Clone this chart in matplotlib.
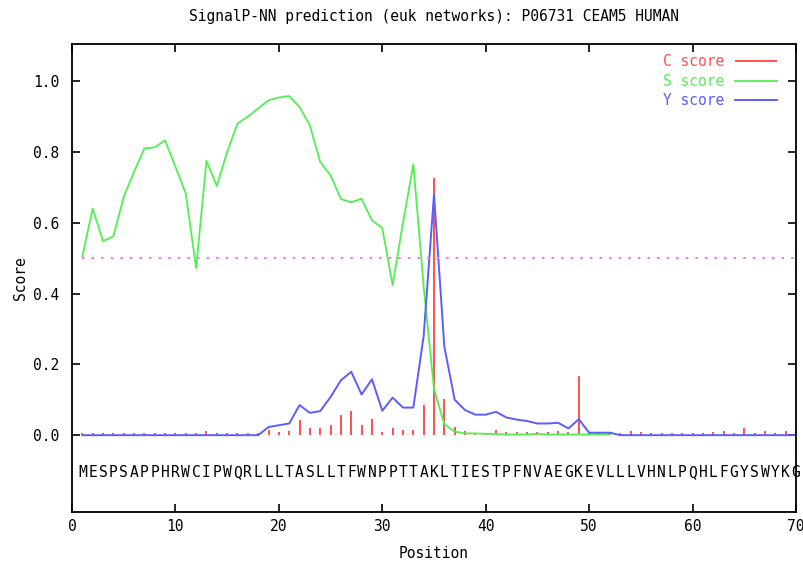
import matplotlib
matplotlib.use("Agg")
import matplotlib.pyplot as plt

# SignalP-NN scores for the first 70 residues of P06731 (CEAM5_HUMAN)
sequence = "MESPSAPPHRWCIPWQRLLLTASLLTFWNPPTTAKLTIESTPFNVAEGKEVLLLVHNLPQHLFGYSWYKG"
positions = list(range(1, 71))

c_score = [0.005, 0.006, 0.005, 0.006, 0.005, 0.005, 0.005, 0.005, 0.005, 0.005,
           0.006, 0.005, 0.012, 0.006, 0.005, 0.005, 0.005, 0.006, 0.014, 0.010,
           0.011, 0.044, 0.019, 0.019, 0.028, 0.057, 0.067, 0.028, 0.047, 0.009,
           0.019, 0.014, 0.014, 0.086, 0.726, 0.102, 0.024, 0.012, 0.006, 0.006,
           0.014, 0.008, 0.008, 0.008, 0.009, 0.008, 0.011, 0.008, 0.167, 0.006,
           0.006, 0.006, 0.007, 0.012, 0.008, 0.007, 0.007, 0.007, 0.007, 0.007,
           0.007, 0.008, 0.011, 0.007, 0.021, 0.007, 0.011, 0.007, 0.011, 0.007]

s_positions = list(range(1, 53))
s_score = [0.505, 0.640, 0.548, 0.562, 0.673, 0.744, 0.810, 0.813, 0.833, 0.758,
           0.683, 0.472, 0.775, 0.704, 0.800, 0.880, 0.900, 0.923, 0.946, 0.954,
           0.958, 0.927, 0.875, 0.772, 0.734, 0.667, 0.658, 0.668, 0.607, 0.585,
           0.424, 0.600, 0.765, 0.420, 0.130, 0.031, 0.010, 0.005, 0.005, 0.004,
           0.003, 0.002, 0.002, 0.002, 0.004, 0.002, 0.002, 0.002, 0.002, 0.002,
           0.002, 0.002]

y_score = [0.0, 0.0, 0.0, 0.0, 0.0, 0.0, 0.0, 0.0, 0.0, 0.0,
           0.0, 0.0, 0.0, 0.0, 0.0, 0.0, 0.0, 0.0, 0.023, 0.028,
           0.033, 0.085, 0.063, 0.068, 0.108, 0.155, 0.179, 0.115, 0.158, 0.069,
           0.106, 0.078, 0.078, 0.280, 0.680, 0.250, 0.100, 0.071, 0.058, 0.058,
           0.066, 0.050, 0.044, 0.040, 0.033, 0.033, 0.035, 0.019, 0.045, 0.007,
           0.007, 0.007, 0.0, 0.0, 0.0, 0.0, 0.0, 0.0, 0.0, 0.0,
           0.0, 0.0, 0.0, 0.0, 0.0, 0.0, 0.0, 0.0, 0.0, 0.0]

threshold = 0.5

red = "#ff5050"
green = "#50f050"
blue = "#5c5cff"
mono = "DejaVu Sans Mono"
fs = 10.5

plt.rcParams["font.family"] = mono

fig = plt.figure(figsize=(8.04, 5.63), dpi=100)
ax = fig.add_axes([72 / 804, 1 - 512 / 563, 724 / 804, 468 / 563])

ax.vlines(positions, 0, c_score, colors=red, linewidth=1.4, label="C score")
ax.plot(s_positions, s_score, color=green, linewidth=1.3, label="S score")
ax.plot(positions, y_score, color=blue, linewidth=1.4, label="Y score")
ax.hlines(threshold, positions[0], positions[-1], colors="#ff70ff",
          linewidth=1.5, linestyles=(0, (1.2, 3.4)))

for p, aa in zip(positions, sequence):
    ax.text(p, -0.105, aa, ha="center", va="center", fontsize=fs, family=mono)

ax.set_xlim(0, 70)
ax.set_ylim(-0.217, 1.105)
ax.set_xticks(range(0, 71, 10))
ax.set_yticks([0.0, 0.2, 0.4, 0.6, 0.8, 1.0])
ax.set_yticklabels(["%.1f" % v for v in [0.0, 0.2, 0.4, 0.6, 0.8, 1.0]])
ax.tick_params(direction="in", length=5.5, width=1.2, labelsize=fs,
               top=True, right=True)
ax.tick_params(axis="x", pad=5)
ax.tick_params(axis="y", pad=9)
for sp in ax.spines.values():
    sp.set_linewidth(1.3)

ax.set_xlabel("Position", fontsize=fs, labelpad=9)
ax.set_ylabel("Score", fontsize=fs, labelpad=4)

fig.text(434 / 804, 1 - 16 / 563, "SignalP-NN prediction (euk networks): P06731 CEAM5 HUMAN",
         ha="center", va="center", fontsize=fs)

leg = ax.legend(loc="upper right", bbox_to_anchor=(0.974, 0.978), frameon=False,
                markerfirst=False, borderaxespad=0, borderpad=0, fontsize=fs,
                handlelength=2.9, handletextpad=0.75, labelspacing=0.3)
for txt, col in zip(leg.get_texts(), [red, green, blue]):
    txt.set_color(col)

fig.savefig("out.png", dpi=100)
